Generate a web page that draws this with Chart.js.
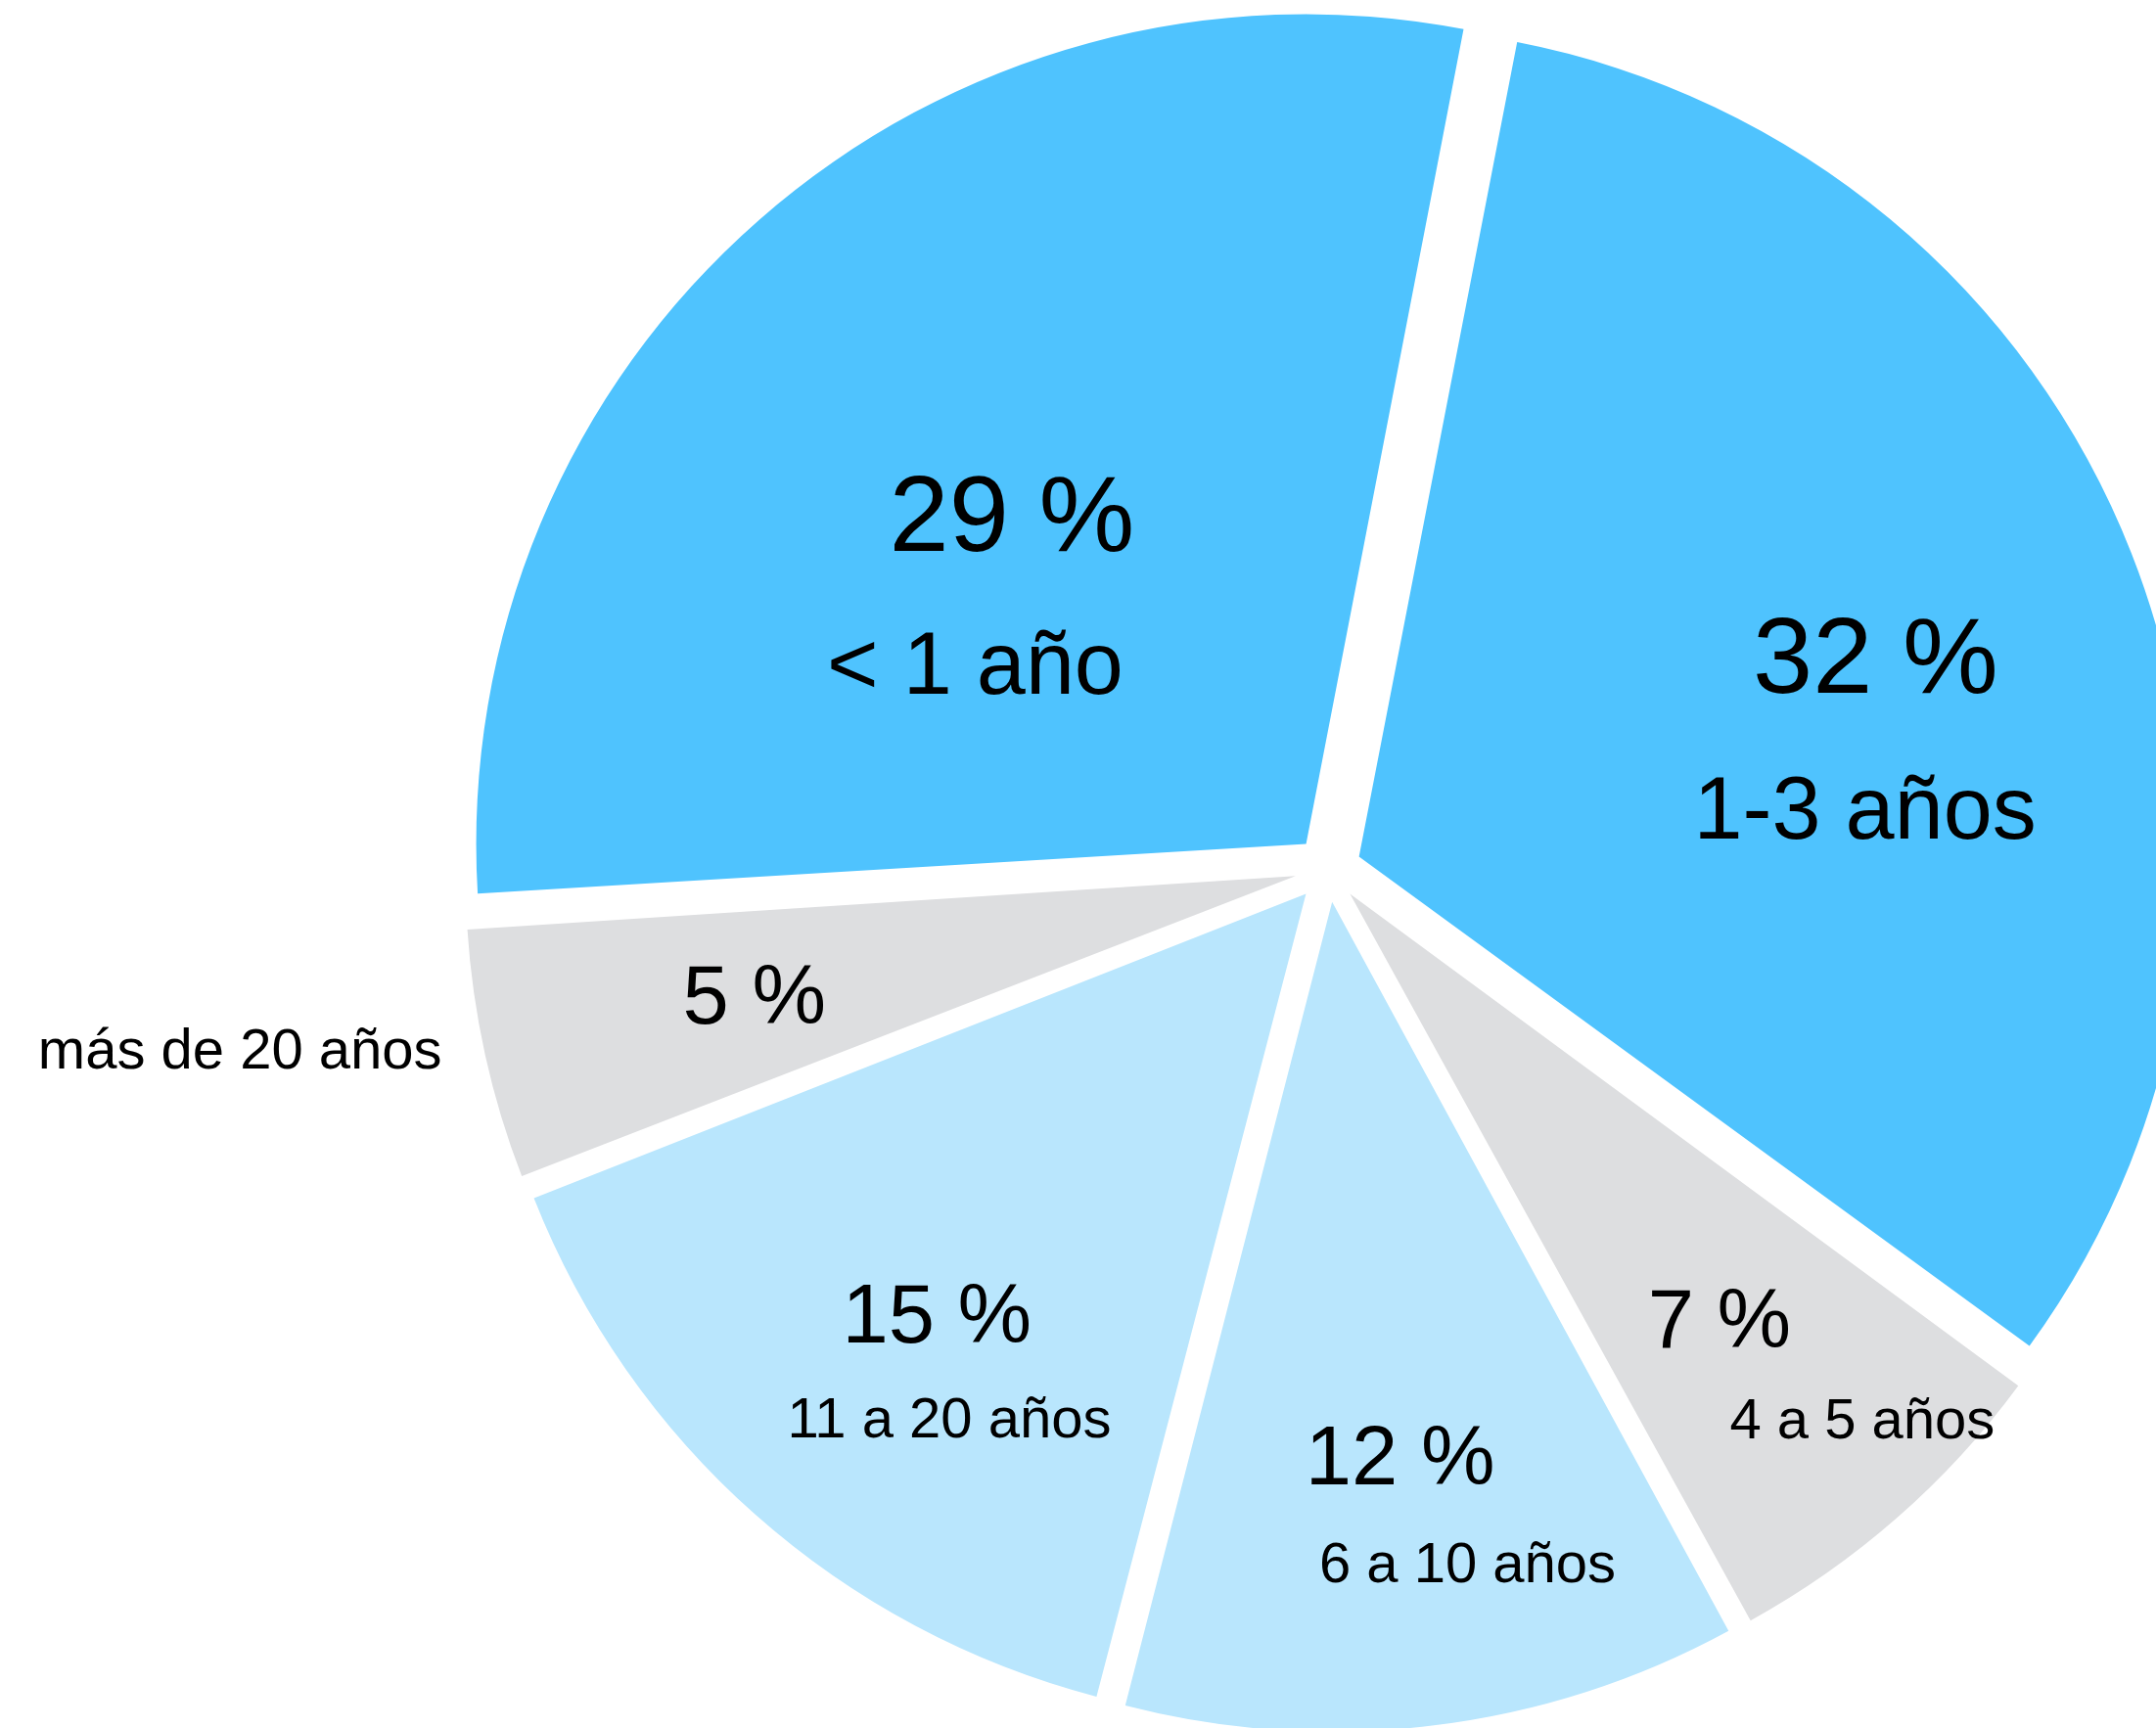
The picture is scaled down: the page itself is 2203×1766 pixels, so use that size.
<!DOCTYPE html>
<html lang="es">
<head>
<meta charset="utf-8">
<title>Antigüedad</title>
<script src="https://cdn.jsdelivr.net/npm/chart.js@4.4.1/dist/chart.umd.min.js"></script>
<style>
  body { margin: 0; background: #fff; }
  #contenedor { width: 2203px; height: 1766px; }
</style>
</head>
<body>
<div id="contenedor"><canvas id="graficoTorta"></canvas></div>
<script>
// Datos del gráfico
const categorias = ['< 1 año', '1-3 años', '4 a 5 años', '6 a 10 años', '11 a 20 años', 'más de 20 años'];
const porcentajes = [29, 32, 7, 12, 15, 5];

// Estilos (colores por porción)
const colores = ['#4FC3FE', '#4FC3FE', '#DDDEE0', '#B9E6FD', '#B9E6FD', '#DDDEE0'];

// Ubicación de las etiquetas: [fracción del radio, desvío en grados respecto a la bisectriz]
const ubicaciones = [
    { pct: [0.500, -3.9], cat: [0.438, -24.3], grande: true },
    { pct: [0.653, 3.8], cat: [0.610, 19.4], grande: true },
    { pct: [0.705, 2.1], cat: [0.901, -2.0] },
    { pct: [0.707, 0.4], cat: [0.836, -4.2] },
    { pct: [0.700, -2.1], cat: [0.784, -8.3] },
    { pct: [0.676, -2.8], cat: [1.293, 2.1] }
];

const RADIO = 848;
const DESPLAZAMIENTO = 136; // Chart.js traslada offset/4
const fuente = '"Liberation Sans", Arial, sans-serif';

// Mantener el mismo radio en todas las porciones separadas
const corregirRadio = {
    id: 'corregirRadio',
    afterDatasetUpdate(chart, args) {
        args.meta.data.forEach(function (arco) {
            const o = (arco.options.offset || 0) / 4;
            const fix = 1 - Math.sin(Math.min(Math.PI, arco.circumference));
            arco.outerRadius = RADIO - o * fix;
        });
    }
};

// Etiquetas de porcentaje y categoría
const etiquetas = {
    id: 'etiquetas',
    afterDatasetsDraw(chart) {
        const ctx = chart.ctx;
        const meta = chart.getDatasetMeta(0);
        ctx.save();
        ctx.fillStyle = '#000';
        ctx.textAlign = 'center';
        ctx.textBaseline = 'alphabetic';
        meta.data.forEach(function (arco, i) {
            const medio = (arco.startAngle + arco.endAngle) / 2;
            const o = (arco.options.offset || 0) / 4;
            const vx = arco.x + Math.cos(medio) * o;
            const vy = arco.y + Math.sin(medio) * o;
            const u = ubicaciones[i];

            const textos = [
                { txt: porcentajes[i] + ' %', p: u.pct, size: u.grande ? 110 : 85 },
                { txt: categorias[i], p: u.cat, size: u.grande ? 90 : 58 }
            ];
            textos.forEach(function (t) {
                const a = medio + t.p[1] * Math.PI / 180;
                const r = t.p[0] * RADIO;
                ctx.font = t.size + 'px ' + fuente;
                ctx.fillText(t.txt, vx + Math.cos(a) * r, vy + Math.sin(a) * r);
            });
        });
        ctx.restore();
    }
};

const ctx = document.getElementById('graficoTorta').getContext('2d');
const graficoTorta = new Chart(ctx, {
    type: 'pie',
    data: {
        labels: categorias,
        datasets: [{
            data: porcentajes,
            backgroundColor: colores,
            borderWidth: 0,
            offset: DESPLAZAMIENTO
        }]
    },
    options: {
        responsive: true,
        maintainAspectRatio: false,
        animation: false,
        events: [],
        rotation: -93.45,
        radius: RADIO,
        layout: { padding: { left: 511, top: 10, right: 0, bottom: 0 } },
        plugins: {
            legend: { display: false },
            tooltip: { enabled: false }
        }
    },
    plugins: [corregirRadio, etiquetas]
});
</script>
</body>
</html>
